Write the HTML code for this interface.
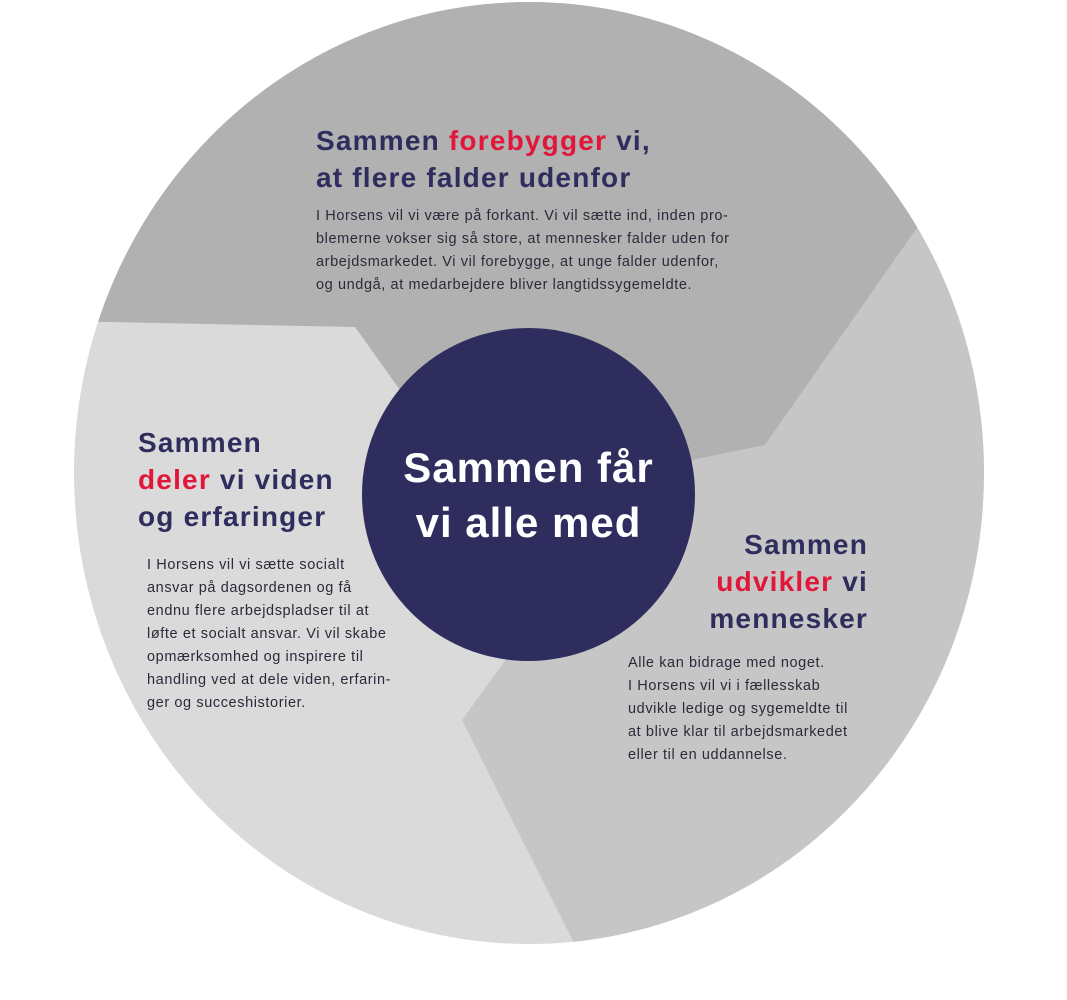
<!DOCTYPE html>
<html><head><meta charset="utf-8"><style>
body{margin:0;width:1067px;height:1000px;background:#fff;position:relative;overflow:hidden;font-family:"Liberation Sans",sans-serif}
.h{position:absolute;font-weight:bold;color:#2e2d5e;font-size:28px;line-height:37px;white-space:nowrap;letter-spacing:1.2px}
.r{color:#e0173a}
.b{position:absolute;font-size:14.5px;line-height:23px;color:#2a2a3a;white-space:nowrap;letter-spacing:0.6px}
.c{position:absolute;left:362px;top:328px;width:333px;height:333px;border-radius:50%;background:#2e2d5e;color:#fff;font-weight:bold;font-size:42px;line-height:55px;letter-spacing:1px;text-align:center;display:flex;align-items:center;justify-content:center}
</style></head><body>
<svg width="1067" height="1000" style="position:absolute;left:0;top:0">
<defs><clipPath id="cp"><ellipse cx="529" cy="473" rx="455" ry="471"/></clipPath></defs>
<g clip-path="url(#cp)">
<rect x="0" y="0" width="1067" height="1000" fill="#dadada"/>
<polygon points="1010,95 905,245 765,445 528,494 520,640 462,720 575,945 600,1000 1067,1000 1067,0" fill="#c6c6c6"/>
<polygon points="0,0 1067,0 1010,95 905,245 765,445 528,494 400,390 355,327 108,322 0,320" fill="#b1b1b1"/>
</g></svg>
<div class="c"><div>Sammen får<br>vi alle med</div></div>
<div class="h" style="left:316px;top:122px">Sammen <span class="r">forebygger</span> vi,<br>at flere falder udenfor</div>
<div class="b" style="left:316px;top:205px">I Horsens vil vi være på forkant. Vi vil sætte ind, inden pro-<br>blemerne vokser sig så store, at mennesker falder uden for<br>arbejdsmarkedet. Vi vil forebygge, at unge falder udenfor,<br>og undgå, at medarbejdere bliver langtidssygemeldte.</div>
<div class="h" style="left:138px;top:424px">Sammen<br><span class="r">deler</span> vi viden<br>og erfaringer</div>
<div class="b" style="left:147px;top:554px">I Horsens vil vi sætte socialt<br>ansvar på dagsordenen og få<br>endnu flere arbejdspladser til at<br>løfte et socialt ansvar. Vi vil skabe<br>opmærksomhed og inspirere til<br>handling ved at dele viden, erfarin-<br>ger og succeshistorier.</div>
<div class="h" style="right:199px;top:526px;text-align:right">Sammen<br><span class="r">udvikler</span> vi<br>mennesker</div>
<div class="b" style="left:628px;top:652px">Alle kan bidrage med noget.<br>I Horsens vil vi i fællesskab<br>udvikle ledige og sygemeldte til<br>at blive klar til arbejdsmarkedet<br>eller til en uddannelse.</div>
</body></html>
